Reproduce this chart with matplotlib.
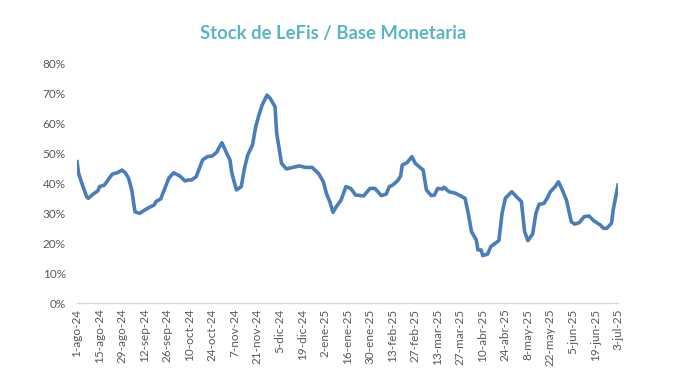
import numpy as np
import pandas as pd
import matplotlib
matplotlib.use("Agg")
import matplotlib.pyplot as plt
from matplotlib.ticker import PercentFormatter

# fechas y valores (stock de LeFis / base monetaria, %)
fechas = [
    "2024-08-01", "2024-08-02", "2024-08-04", "2024-08-07", "2024-08-08", "2024-08-11",
    "2024-08-14", "2024-08-15", "2024-08-18", "2024-08-21", "2024-08-23", "2024-08-26",
    "2024-08-29", "2024-08-31", "2024-09-02", "2024-09-04", "2024-09-06", "2024-09-09",
    "2024-09-12", "2024-09-15", "2024-09-18", "2024-09-19", "2024-09-22", "2024-09-25",
    "2024-09-27", "2024-09-30", "2024-10-04", "2024-10-07", "2024-10-09", "2024-10-11",
    "2024-10-14", "2024-10-16", "2024-10-18", "2024-10-21", "2024-10-24", "2024-10-27",
    "2024-10-28", "2024-10-30", "2024-11-02", "2024-11-04", "2024-11-05", "2024-11-06",
    "2024-11-08", "2024-11-11", "2024-11-13", "2024-11-15", "2024-11-18", "2024-11-20",
    "2024-11-22", "2024-11-24", "2024-11-27", "2024-11-29", "2024-12-02", "2024-12-03",
    "2024-12-05", "2024-12-06", "2024-12-09", "2024-12-13", "2024-12-17", "2024-12-21",
    "2024-12-25", "2024-12-29", "2025-01-01", "2025-01-03", "2025-01-05", "2025-01-07",
    "2025-01-09", "2025-01-12", "2025-01-15", "2025-01-18", "2025-01-21", "2025-01-26",
    "2025-01-30", "2025-02-02", "2025-02-06", "2025-02-09", "2025-02-11", "2025-02-13",
    "2025-02-16", "2025-02-18", "2025-02-19", "2025-02-22", "2025-02-25", "2025-02-27",
    "2025-03-04", "2025-03-06", "2025-03-09", "2025-03-11", "2025-03-13", "2025-03-16",
    "2025-03-17", "2025-03-20", "2025-03-24", "2025-03-30", "2025-04-01", "2025-04-03",
    "2025-04-06", "2025-04-07", "2025-04-09", "2025-04-10", "2025-04-13", "2025-04-15",
    "2025-04-20", "2025-04-22", "2025-04-24", "2025-04-28", "2025-05-01", "2025-05-04",
    "2025-05-06", "2025-05-08", "2025-05-11", "2025-05-13", "2025-05-15", "2025-05-18",
    "2025-05-20", "2025-05-22", "2025-05-25", "2025-05-27", "2025-05-29", "2025-06-01",
    "2025-06-04", "2025-06-06", "2025-06-09", "2025-06-12", "2025-06-15", "2025-06-18",
    "2025-06-22", "2025-06-24", "2025-06-26", "2025-06-29", "2025-06-30", "2025-07-03",
]
valores = [
    47.1, 43.2, 39.9, 35.4, 34.9, 36.3,
    37.4, 38.8, 39.3, 41.6, 43.0, 43.4,
    44.3, 43.4, 41.6, 37.7, 30.4, 29.9,
    31.0, 31.9, 32.7, 33.8, 34.7, 38.8,
    41.6, 43.4, 42.3, 40.7, 41.0, 41.0,
    42.1, 44.9, 47.7, 48.8, 49.0, 50.4,
    51.6, 53.4, 49.9, 47.7, 43.8, 41.6,
    37.7, 38.8, 44.9, 49.3, 52.7, 58.8,
    62.7, 66.0, 69.3, 68.2, 65.4, 56.6,
    49.9, 46.6, 44.7, 45.2, 45.7, 45.2,
    45.2, 43.2, 40.4, 36.3, 33.8, 30.2,
    32.1, 34.3, 38.8, 38.2, 36.0, 35.7,
    38.2, 38.2, 35.8, 36.3, 38.8, 39.3,
    40.7, 42.3, 46.0, 46.8, 48.8, 46.6,
    44.3, 37.7, 35.8, 36.0, 38.2, 38.0,
    38.6, 37.1, 36.6, 34.9, 29.9, 23.8,
    21.0, 17.7, 17.7, 15.8, 16.3, 18.8,
    20.8, 29.9, 34.9, 37.1, 35.4, 33.8,
    23.8, 20.8, 23.0, 29.9, 32.9, 33.2,
    34.9, 37.1, 38.8, 40.4, 38.2, 34.3,
    27.1, 26.3, 26.8, 28.8, 29.0, 27.4,
    26.0, 24.9, 24.9, 26.6, 31.0, 39.3,
]

meses = {1: "ene", 2: "feb", 3: "mar", 4: "abr", 5: "may", 6: "jun",
         7: "jul", 8: "ago", 9: "sep", 10: "oct", 11: "nov", 12: "dic"}

x = pd.to_datetime(fechas)
ticks = pd.date_range("2024-08-01", "2025-07-03", freq="14D")
tick_labels = [f"{d.day}-{meses[d.month]}-{d.strftime('%y')}" for d in ticks]

plt.rcParams['font.family'] = ['Lato', 'DejaVu Sans']

fig = plt.figure(figsize=(6.78, 3.81), dpi=100, facecolor='white')
ax = fig.add_axes([0.1136, 0.2047, 0.7979, 0.6299])

ax.plot(x, valores, color='#4A7EBB', linewidth=2.6, solid_joinstyle='round')

ax.set_ylim(0, 80)
ax.set_yticks(np.arange(0, 81, 10))
ax.yaxis.set_major_formatter(PercentFormatter(decimals=0))
ax.set_xlim(ticks[0], ticks[-1])
ax.set_xticks(ticks)
ax.set_xticklabels(tick_labels, rotation=90)

for s in ['top', 'right', 'left']:
    ax.spines[s].set_visible(False)
ax.spines['bottom'].set_color('#D9D9D9')
ax.spines['bottom'].set_linewidth(1.0)
ax.tick_params(axis='both', length=0, labelsize=8.5, colors='#595959')
ax.tick_params(axis='y', pad=8)
ax.tick_params(axis='x', pad=4)

fig.text(0.491, 0.913, "Stock de LeFis / Base Monetaria", ha='center', va='center',
         fontsize=13.3, fontweight='bold', color='#5BB5C4')

fig.savefig("out.png", dpi=100, facecolor='white')
